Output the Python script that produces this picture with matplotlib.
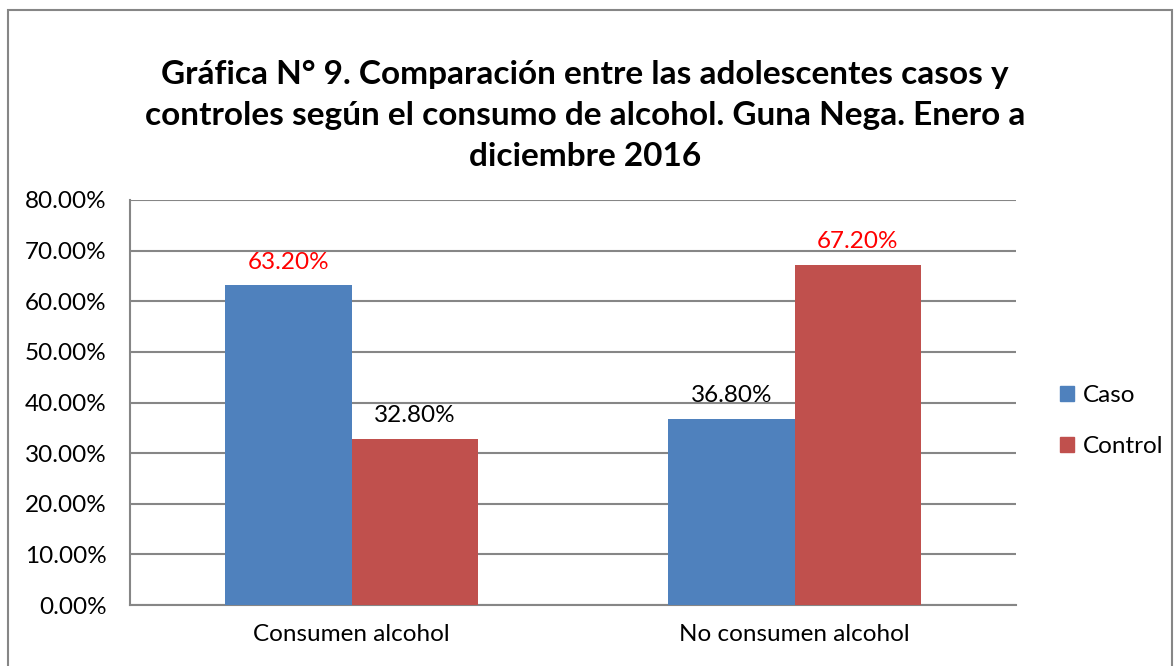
import matplotlib
matplotlib.use('Agg')
import numpy as np
from matplotlib import pyplot as plt
from matplotlib.patches import Rectangle, Patch
from matplotlib.ticker import PercentFormatter

categorias = ['Consumen alcohol', 'No consumen alcohol']
caso = [63.2, 36.8]
control = [32.8, 67.2]
series = ['Caso', 'Control']
colores_etiqueta_caso = ['red', 'black']
colores_etiqueta_control = ['black', 'red']

titulo = ('Gráfica N° 9. Comparación entre las adolescentes casos y\n'
          'controles según el consumo de alcohol. Guna Nega. Enero a\n'
          'diciembre 2016')

plt.rcParams['font.family'] = ['Lato', 'DejaVu Sans']

W, H = 1174, 666
fig = plt.figure(figsize=(W / 100, H / 100), dpi=100)
ax = fig.add_axes([130 / W, 1 - 605 / H, (1016 - 130) / W, (605 - 200) / H])

azul = '#4F81BD'
rojo = '#C0504D'
ancho = 0.285
x = np.arange(len(categorias))
fs = 17.5

b1 = ax.bar(x - ancho / 2, caso, ancho, color=azul, zorder=3)
b2 = ax.bar(x + ancho / 2, control, ancho, color=rojo, zorder=3)

for barras, vals, cols in ((b1, caso, colores_etiqueta_caso), (b2, control, colores_etiqueta_control)):
    for r, v, c in zip(barras, vals, cols):
        ax.annotate("{:.2f}%".format(v), (r.get_x() + r.get_width() / 2, v),
                    xytext=(0, 9), textcoords='offset points', ha='center', va='bottom',
                    fontsize=fs, color=c)

ax.set_xlim(-0.5, len(categorias) - 0.5)
ax.set_ylim(0, 80)
ax.set_yticks(np.arange(0, 81, 10))
ax.yaxis.set_major_formatter(PercentFormatter(decimals=2))
ax.set_xticks(x)
ax.set_xticklabels(categorias)
ax.tick_params(axis='both', length=0, labelsize=fs)
ax.tick_params(axis='x', pad=14)
ax.tick_params(axis='y', pad=17)

gris = '#868686'
ax.grid(axis='y', color=gris, linewidth=1.5, zorder=0)
for lado in ('top', 'right'):
    ax.spines[lado].set_visible(False)
for lado in ('left', 'bottom'):
    ax.spines[lado].set_color(gris)
    ax.spines[lado].set_linewidth(1.5)

fig.text(585 / W, 1 - 115 / H, titulo, ha='center', va='center', fontsize=24,
         fontweight='bold', linespacing=1.5)

fig.legend(handles=[Patch(color=azul), Patch(color=rojo)], labels=series,
           loc='center left', bbox_to_anchor=(1038 / W, 1 - 421 / H), frameon=False,
           fontsize=fs, handlelength=0.6, handleheight=0.6, handletextpad=0.35,
           labelspacing=1.25)

fig.patches.append(Rectangle((8 / W, -0.05), 1 - 10 / W, 1.05 - 10 / H, transform=fig.transFigure,
                             fill=False, edgecolor=gris, linewidth=1.5))

fig.savefig('out.png', dpi=100)
